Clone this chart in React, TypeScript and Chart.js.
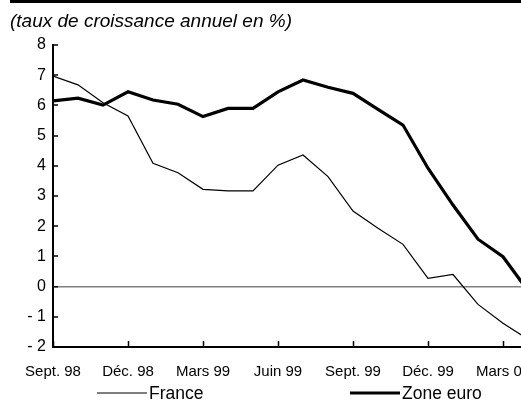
import React, { useEffect, useRef } from "react";
import { Chart, registerables } from "chart.js";

Chart.register(...registerables);

// ---- data ----
const monthLabels = [
  "Sept. 98", "Oct. 98", "Nov. 98", "Déc. 98", "Janv. 99", "Févr. 99", "Mars 99",
  "Avr. 99", "Mai 99", "Juin 99", "Juil. 99", "Août 99", "Sept. 99", "Oct. 99",
  "Nov. 99", "Déc. 99", "Janv. 00", "Févr. 00", "Mars 00", "Avr. 00",
];
const franceValues = [
  6.97, 6.68, 6.09, 5.65, 4.08, 3.77, 3.22, 3.17, 3.17, 4.02,
  4.36, 3.64, 2.5, 1.93, 1.4, 0.27, 0.4, -0.59, -1.21, -1.74,
];
const zoneEuroValues = [
  6.15, 6.24, 6.01, 6.45, 6.18, 6.04, 5.63, 5.9, 5.9, 6.45,
  6.84, 6.6, 6.4, 5.87, 5.35, 3.92, 2.7, 1.57, 0.99, -0.14,
];
const seriesNames = ["France", "Zone euro"];
const titleText = "(taux de croissance annuel en %)";
const yMin = -2;
const yMax = 8;
const xTickStep = 3;

const FONT = "'Liberation Sans', Arial, Helvetica, sans-serif";

const topRule = {
  id: "topRule",
  beforeDraw(chart: any) {
    const ctx = chart.ctx;
    ctx.save();
    ctx.fillStyle = "#000";
    ctx.fillRect(10, 0, chart.width - 10, 3);
    ctx.restore();
  },
};

const lineLegend = {
  id: "lineLegend",
  afterDraw(chart: any, _args: any, opts: any) {
    const ctx = chart.ctx;
    ctx.save();
    ctx.font = `${opts.fontSize}px ${FONT}`;
    ctx.textBaseline = "middle";
    ctx.textAlign = "left";
    chart.data.datasets.forEach((ds: any, i: number) => {
      const x = opts.xs[i];
      const y = opts.y;
      ctx.beginPath();
      ctx.strokeStyle = ds.borderColor;
      ctx.lineWidth = ds.borderWidth;
      ctx.moveTo(x, y);
      ctx.lineTo(x + opts.lineLength, y);
      ctx.stroke();
      ctx.fillStyle = "#000";
      ctx.fillText(ds.label, x + opts.lineLength + opts.gap, y + 1);
    });
    ctx.restore();
  },
};

export default function App() {
  const ref = useRef<HTMLCanvasElement>(null);

  useEffect(() => {
    if (!ref.current) return;
    Chart.defaults.font.family = FONT;
    const chart = new Chart(ref.current, {
      type: "line",
      data: {
        datasets: [
          {
            label: seriesNames[0],
            data: franceValues.map((v, i) => ({ x: i, y: v })),
            borderColor: "#000",
            borderWidth: 1.2,
            pointRadius: 0,
            tension: 0,
          },
          {
            label: seriesNames[1],
            data: zoneEuroValues.map((v, i) => ({ x: i, y: v })),
            borderColor: "#000",
            borderWidth: 3.2,
            pointRadius: 0,
            tension: 0,
          },
        ],
      },
      options: {
        animation: false,
        responsive: false,
        devicePixelRatio: 1,
        layout: { padding: { left: 10, right: 12, top: 0, bottom: 12 } },
        plugins: {
          legend: { display: false },
          tooltip: { enabled: false },
          title: {
            display: true,
            text: titleText,
            align: "start",
            color: "#000",
            font: { family: FONT, size: 19, style: "italic", weight: "normal", lineHeight: 1.2 },
            padding: { top: 10.5, bottom: 11.7 },
          },
          lineLegend: { xs: [97, 350], y: 393, lineLength: 50, gap: 2, fontSize: 17.5 },
        } as any,
        scales: {
          x: {
            type: "linear",
            min: 0,
            max: monthLabels.length - 1,
            ticks: {
              stepSize: xTickStep,
              includeBounds: false,
              autoSkip: false,
              maxRotation: 0,
              padding: 22,
              color: "#000",
              font: { size: 15 },
              callback: (v: any) => monthLabels[v as number] ?? "",
            },
            grid: {
              drawOnChartArea: false,
              drawTicks: true,
              tickLength: -6,
              tickColor: "#000",
              tickWidth: 1.5,
            },
            border: { display: true, color: "#000", width: 2 },
            afterFit: (s: any) => {
              s.height = 42;
              s.paddingLeft = 0;
              s.paddingRight = 0;
            },
          },
          y: {
            min: yMin,
            max: yMax,
            ticks: {
              stepSize: 1,
              padding: 12,
              color: "#000",
              font: { size: 16 },
              callback: (v: any) => (v < 0 ? "- " + Math.abs(v) : String(v)),
            },
            grid: {
              drawOnChartArea: true,
              color: (c: any) => (c.tick && c.tick.value === 0 ? "#808080" : "rgba(0,0,0,0)"),
              lineWidth: (c: any) => (c.tick && c.tick.value === 0 ? 1.5 : 0),
              tickColor: "#000",
              tickWidth: 1.5,
              tickLength: -5,
            },
            border: { display: true, color: "#000", width: 2 },
            afterFit: (s: any) => {
              s.width = 43;
            },
          },
        },
      } as any,
      plugins: [topRule, lineLegend],
    });
    return () => chart.destroy();
  }, []);

  return (
    <div
      style={{
        position: "absolute",
        left: 0,
        top: 0,
        width: 521,
        height: 401,
        overflow: "hidden",
        background: "#fff",
      }}
    >
      <canvas ref={ref} width={540} height={401} style={{ display: "block" }} />
    </div>
  );
}
